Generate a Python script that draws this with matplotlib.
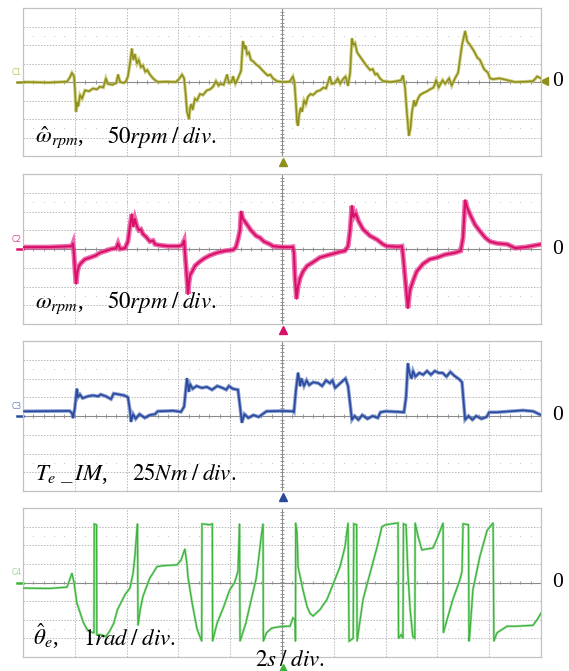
import numpy as np
import matplotlib
matplotlib.use('Agg')
import matplotlib.pyplot as plt

plt.rcParams['mathtext.fontset'] = 'stix'
plt.rcParams['font.family'] = ['Liberation Serif', 'DejaVu Serif']

# ---------------- data (time in s, 2 s/div) ----------------
# Panel 1: estimated speed (rpm), 50 rpm/div
t_speed_est = [0.0, 1.0, 1.70, 1.81, 1.89, 1.97, 2.01, 2.05, 2.10, 2.14, 2.20, 2.28, 2.39, 2.55, 2.70, 2.85, 2.97, 3.10, 3.20, 3.28,
               3.45, 3.60, 3.67, 3.75, 3.90, 3.98, 4.05, 4.13, 4.20, 4.26, 4.32, 4.40, 4.47, 4.55, 4.63, 4.72, 4.80, 4.90, 5.02, 5.10,
               5.20, 5.50, 5.90, 6.02, 6.14, 6.22, 6.29, 6.33, 6.37, 6.41, 6.45, 6.50, 6.55, 6.64, 6.72, 6.83, 6.95, 7.10, 7.22, 7.34,
               7.45, 7.55, 7.61, 7.75, 7.88, 7.95, 8.05, 8.11, 8.20, 8.30, 8.42, 8.49, 8.56, 8.60, 8.65, 8.72, 8.80, 8.90, 9.00, 9.10,
               9.20, 9.30, 9.45, 9.55, 9.65, 9.80, 10.0, 10.3, 10.42, 10.48, 10.54, 10.58, 10.62, 10.66, 10.72, 10.78, 10.85, 10.92, 11.0, 11.10,
               11.20, 11.35, 11.47, 11.60, 11.70, 11.85, 11.92, 12.05, 12.15, 12.25, 12.35, 12.45, 12.55, 12.63, 12.70, 12.76, 12.82, 12.90, 13.00, 13.10,
               13.25, 13.40, 13.50, 13.60, 13.67, 13.78, 13.90, 14.2, 14.45, 14.60, 14.67, 14.75, 14.83, 14.90, 14.96, 15.02, 15.10, 15.15, 15.25, 15.33,
               15.45, 15.60, 15.71, 15.85, 15.95, 16.05, 16.20, 16.30, 16.45, 16.55, 16.68, 16.80, 16.95, 17.07, 17.15, 17.26, 17.40, 17.55, 17.64, 17.80,
               17.95, 18.03, 18.15, 18.40, 18.70, 19.0, 19.40, 19.70, 19.85, 20.0]
speed_est_rpm = [0, -1.5, 1, 12.5, 25, 15, -25, -80, -55, -65, -35, -45, -22.5, -25, -17.5, -20, -12.5, -15, 10, -5,
                 -7.5, -2.5, 20, 0, -2.5, 2.5, 15, 50, 90, 60, 75, 50, 60, 40, 45, 27.5, 32.5, 20, 10, 5,
                 0, 1, 0, 7.5, 20, 10, -40, -80, -90, -100, -70, -60, -75, -45, -50, -32.5, -35, -22.5, -20, -12.5,
                 2.5, -10, -5, -7.5, 20, -2.5, 0, 15, -5, 10, 30, 110, 90, 97.5, 75, 80, 60, 55, 47.5, 42.5,
                 35, 27.5, 17.5, 20, 10, 2.5, 0, 1, 15, 0, -60, -110, -117.5, -90, -70, -80, -50, -60, -40, -32.5,
                 -35, -25, -22.5, -15, -17.5, 15, -5, -2.5, 10, -5, 7.5, 15, -10, 25, 117.5, 100, 105, 80, 70, 60,
                 45, 32.5, 35, 20, 22.5, 10, 2.5, 0, 2.5, 5, 17.5, -15, -90, -145, -125, -80, -50, -65, -45, -35,
                 -30, -25, -20, -15, 5, -15, 5, -5, 10, -10, 10, 25, 100, 137.5, 110, 100, 85, 65, 60, 35,
                 25, 10, 7.5, 10, 5, 0, 1, 2.5, 15, 10]

# Panel 2: actual speed (rpm), 50 rpm/div
t_speed = [0.0, 1.0, 1.89, 1.93, 1.97, 2.01, 2.05, 2.10, 2.16, 2.24, 2.39, 2.60, 2.80, 2.97, 3.20, 3.40, 3.60, 3.67, 3.75, 3.94,
           4.05, 4.13, 4.20, 4.26, 4.32, 4.40, 4.47, 4.55, 4.63, 4.75, 4.90, 5.02, 5.10, 5.29, 5.60, 6.00, 6.14, 6.22, 6.27, 6.33,
           6.37, 6.41, 6.45, 6.53, 6.64, 6.80, 7.00, 7.20, 7.49, 7.80, 8.11, 8.22, 8.30, 8.38, 8.42, 8.49, 8.55, 8.65, 8.80, 9.00,
           9.15, 9.30, 9.54, 9.65, 10.0, 10.3, 10.42, 10.46, 10.50, 10.56, 10.62, 10.70, 10.81, 10.97, 11.20, 11.47, 11.85, 12.24, 12.43, 12.55,
           12.63, 12.70, 12.76, 12.85, 12.95, 13.13, 13.40, 13.67, 13.90, 14.05, 14.50, 14.63, 14.67, 14.75, 14.86, 14.94, 15.06, 15.20, 15.44, 15.70,
           16.00, 16.29, 16.68, 16.90, 16.99, 17.07, 17.15, 17.26, 17.45, 17.64, 17.85, 18.03, 18.30, 18.70, 19.00, 19.40, 19.80, 20.0]
speed_rpm = [5, 5, 7.5, 15, -15, -60, -92.5, -60, -45, -37.5, -27.5, -22.5, -17.5, -10, -5, 0, 2.5, 15, 0, 2.5,
             20, 60, 92.5, 60, 80, 60, 50, 52.5, 40, 32.5, 20, 22.5, 12.5, 10, 7.5, 7.5, 10, 22.5, -25, -80,
             -120, -90, -70, -60, -45, -35, -25, -17.5, -10, -5, -2.5, 5, 25, 50, 100, 80, 75, 65, 50, 35,
             30, 20, 12.5, 7.5, 5, 5, 6, -10, -75, -132.5, -100, -77.5, -60, -45, -35, -22.5, -15, -7.5, -5, 7.5,
             50, 115, 85, 95, 75, 52.5, 35, 25, 12.5, 7.5, 6, 7.5, -15, -75, -157.5, -110, -85, -60, -40, -27.5,
             -22.5, -15, -10, -5, 30, 130, 110, 92.5, 65, 47.5, 30, 20, 15, 12.5, 2.5, 5, 10, 12.5]

# Panel 3: IM torque (Nm), 25 Nm/div
t_torque = [0.0, 1.80, 1.89, 1.93, 2.00, 2.08, 2.12, 2.20, 2.30, 2.50, 2.70, 2.90, 3.00, 3.20, 3.40, 3.50, 3.70, 3.90, 4.05, 4.13,
            4.17, 4.25, 4.35, 4.50, 4.70, 4.90, 5.10, 5.20, 5.80, 6.10, 6.22, 6.33, 6.40, 6.45, 6.55, 6.70, 6.90, 7.10, 7.30, 7.50,
            7.70, 7.85, 7.95, 8.10, 8.30, 8.38, 8.45, 8.55, 8.70, 8.90, 9.10, 9.30, 9.40, 10.0, 10.42, 10.46, 10.54, 10.62, 10.70, 10.75,
            10.85, 10.95, 11.05, 11.20, 11.40, 11.55, 11.70, 11.85, 11.95, 12.05, 12.45, 12.55, 12.70, 12.80, 12.95, 13.10, 13.30, 13.50, 13.70, 13.80,
            14.00, 14.50, 14.71, 14.79, 14.86, 14.92, 15.00, 15.06, 15.15, 15.30, 15.45, 15.60, 15.75, 15.90, 16.05, 16.20, 16.35, 16.50, 16.65, 16.85,
            16.95, 17.07, 17.20, 17.35, 17.50, 17.70, 17.90, 18.00, 18.30, 18.80, 19.30, 19.70, 19.85, 20.0]
torque_nm = [6.25, 6.75, 3.75, -2.5, 10, 36.25, 25, 28.75, 23.75, 26.25, 27.5, 26.25, 28.75, 26.25, 22.5, 30, 28.75, 27.5, 25, 7.5,
             -7.5, 2.5, -3.75, 2.5, -2.5, 1.25, 2.5, 6.25, 7, 5.5, 12.5, 50, 32.5, 42.5, 36.25, 40, 37.5, 38.75, 35, 40,
             37.5, 35, 40, 36.25, 35, 12.5, -8.75, 2.5, -2.5, 1.25, -1.25, 3.75, 6.25, 6.75, 6.25, 5, 35, 57.5, 40, 50,
             40, 47.5, 41.25, 45, 43.75, 40, 47.5, 43.75, 47.5, 37.5, 50, 40, -5, 0, -5, 1.25, -3.75, 0, -2.5, 5,
             6.25, 5.5, 5, 25, 70, 57.5, 50, 60, 52.5, 57.5, 55, 60, 55, 60, 57.5, 57.5, 52.5, 58.75, 53.75, 48.75,
             45, -5, 0, -5, 0, -3.75, -1.25, 5, 5, 6.25, 7.5, 6.25, 3.75, 1.25]

# Panel 4: estimated electrical angle (rad), 1 rad/div
t_theta = [0.0, 1.0, 1.70, 1.89, 1.97, 2.08, 2.20, 2.33, 2.47, 2.60, 2.74, 2.75, 2.84, 2.85, 3.00, 3.20, 3.35, 3.50, 3.65, 3.94,
           4.13, 4.25, 4.32, 4.38, 4.42, 4.44, 4.52, 4.63, 4.75, 4.90, 5.02, 5.17, 5.40, 5.95, 6.10, 6.25, 6.33, 6.37, 6.53, 6.72,
           6.90, 6.91, 7.20, 7.31, 7.32, 7.49, 7.75, 7.98, 8.17, 8.30, 8.36, 8.38, 8.60, 8.80, 9.00, 9.10, 9.20, 9.27, 9.28, 9.40,
           9.60, 10.0, 10.31, 10.42, 10.50, 10.52, 10.53, 10.58, 10.62, 10.81, 10.97, 11.08, 11.20, 11.47, 11.74, 11.97, 12.24, 12.43, 12.55, 12.59,
           12.75, 12.77, 12.88, 12.90, 13.13, 13.40, 13.67, 13.86, 14.00, 14.48, 14.50, 14.60, 14.67, 14.69, 14.79, 14.86, 14.95, 15.05, 15.13, 15.14,
           15.25, 15.40, 15.60, 15.83, 16.00, 16.22, 16.23, 16.35, 16.60, 16.87, 16.95, 16.99, 17.20, 17.22, 17.26, 17.37, 17.64, 17.92, 18.15, 18.18,
           18.30, 18.69, 19.00, 19.69, 19.85, 20.0]
theta_rad = [-0.3, -0.32, -0.25, 0.5, 0.0, -1.1, -1.6, -2.15, -2.5, -2.65, -2.7, 3.14, 3.1, -2.8, -2.8, -2.9, -2.6, -2.2, -1.45, -0.65,
             -0.3, 0.5, 1.4, 2.5, 3.15, -2.3, -1.5, -0.75, -0.3, 0.25, 0.5, 0.85, 0.9, 0.95, 1.2, 1.8, 1.0, 0.3, -1.1, -2.5,
             -3.15, 3.15, 3.1, 3.15, -3.15, -2.2, -1.3, -0.4, 0.0, 0.6, 3.15, -3.15, -2.2, -1.0, 0.2, 1.3, 2.5, 3.15, -3.15, -2.7,
             -2.45, -2.35, -2.35, -1.9, -2.0, -3.15, 3.2, 2.65, 0.85, -0.4, -1.3, -1.65, -1.8, -1.45, -0.9, -0.1, 0.85, 1.9, 3.2, -3.15,
             -3.0, 3.15, 3.1, -3.15, -0.9, 0.5, 1.9, 3.0, 3.1, 3.2, -3.0, -2.8, -3.0, 3.15, 3.1, 0.5, -1.5, -2.9, -3.0, 3.2,
             2.5, 1.75, 1.8, 1.85, 2.4, 3.2, -2.7, -2.1, -0.9, 0.15, 0.6, 3.15, 3.1, -3.15, -2.6, -0.4, 1.4, 2.8, 3.2, -3.15,
             -2.7, -2.35, -2.35, -2.3, -2.0, -1.65]

channels = [
    dict(t=t_speed_est, v=speed_est_rpm, scale=50, name='C1', core='#8f8f1c', band='#c4c466', lw=1.1, bw=2.4,
         labels=[(0.023, 0.09, r'$\hat{\omega}_{rpm}$,'), (0.162, 0.09, r'$50rpm\;/\;div.$')]),
    dict(t=t_speed, v=speed_rpm, scale=50, name='C2', core='#d81068', band='#e8489a', lw=1.5, bw=3.6,
         labels=[(0.023, 0.107, r'$\omega_{rpm}$,'), (0.162, 0.107, r'$50rpm\;/\;div.$')]),
    dict(t=t_torque, v=torque_nm, scale=25, name='C3', core='#2a4a9e', band='#6a84c4', lw=1.2, bw=2.6,
         labels=[(0.023, 0.073, r'$T_e\;\_\,IM$,'), (0.21, 0.073, r'$25Nm\;/\;div.$')]),
    dict(t=t_theta, v=theta_rad, scale=1, name='C4', core='#3cb43c', band='#9ad89a', lw=0.9, bw=1.8,
         labels=[(0.019, 0.08, r'$\hat{\theta}_e$,'), (0.116, 0.08, r'$1rad\;/\;div.$')]),
]

W, H = 569, 671
rows = [(8, 156), (174, 324), (341, 491), (508, 657)]

fig = plt.figure(figsize=(W / 100, H / 100), dpi=100)
grid_c = '#b8b8b8'
center_c = '#8c8c8c'
FS = 16.5

for (top, bot), ch in zip(rows, channels):
    ax = fig.add_axes([23 / W, 1 - bot / H, 518 / W, (bot - top) / H])
    s = ch['scale']
    ax.set_xlim(0, 20)
    ax.set_ylim(-4 * s, 4 * s)
    ax.set_xticks([]); ax.set_yticks([])
    for sp in ax.spines.values():
        sp.set_color('#c2c2c2'); sp.set_linewidth(0.9)
    # graticule
    for i in range(1, 10):
        if i == 5:
            ax.axvline(10, color=center_c, lw=0.8, zorder=1)
        else:
            ax.axvline(2 * i, color=grid_c, lw=0.7, ls=(0, (1.5, 1.5)), zorder=1)
    for j in range(-3, 4):
        if j == 0:
            ax.axhline(0, color=center_c, lw=0.8, zorder=1)
        else:
            ax.axhline(j * s, color=grid_c, lw=0.7, ls=(0, (1.5, 1.5)), zorder=1)
    xt = np.arange(0.4, 20, 0.4)
    ax.vlines(xt, -0.1 * s, 0.1 * s, color=center_c, lw=0.6, zorder=1)
    yt = np.arange(-4, 4.01, 0.2) * s
    ax.hlines(yt, 10 - 0.08, 10 + 0.08, color=center_c, lw=0.6, zorder=1)
    for yy in (2.5, -2.5):
        ax.plot(xt, np.full_like(xt, yy * s), ls='none', marker='s', ms=0.6, mew=0, color='#c4c4c4', zorder=1)
    # trace
    ax.plot(ch['t'], ch['v'], color=ch['band'], lw=ch['bw'], alpha=0.8, zorder=2, solid_joinstyle='miter')
    ax.plot(ch['t'], ch['v'], color=ch['core'], lw=ch['lw'], zorder=3)
    # labels
    for (x, y, txt) in ch['labels']:
        ax.text(x, y, txt, transform=ax.transAxes, fontsize=FS, va='baseline', ha='left', zorder=5)
    ax.text(1.022, 0.5, '0', transform=ax.transAxes, fontsize=15.5, va='center', ha='left')
    ax.text(-0.003, 0.565, ch['name'], transform=ax.transAxes, fontsize=5.5, color=ch['band'],
            ha='right', va='center', family='DejaVu Sans')
    ax.plot([-0.012, 0.0], [0.5, 0.5], transform=ax.transAxes, clip_on=False, color=ch['core'], lw=1.8)
    tri_y = -0.04 if ch['name'] != 'C4' else -0.075
    ax.plot([0.502], [tri_y], marker='^', ms=5.5, color=ch['core'], transform=ax.transAxes, clip_on=False, zorder=6)
    if ch['name'] == 'C1':
        ax.plot([1.006], [0.51], marker='<', ms=6, color=ch['core'], transform=ax.transAxes, clip_on=False)
    if ch['name'] == 'C4':
        ax.text(0.448, -0.058, r'$2s\;/\;div.$', transform=ax.transAxes, fontsize=FS, va='baseline', ha='left',
                zorder=7)

fig.savefig('out.png', dpi=100)
